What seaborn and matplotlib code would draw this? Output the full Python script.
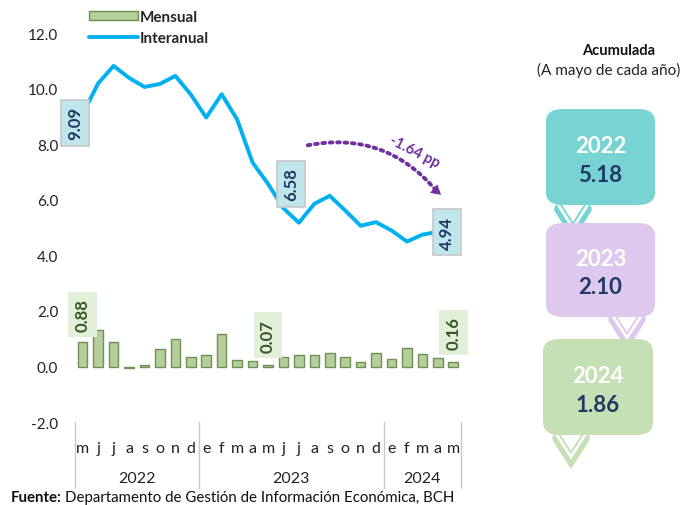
import numpy as np
import pandas as pd
import matplotlib
matplotlib.use("Agg")
import matplotlib.pyplot as plt
import seaborn as sns
from matplotlib.patches import FancyBboxPatch, FancyArrowPatch, Patch
from matplotlib.lines import Line2D

# datos
months = ["m", "j", "j", "a", "s", "o", "n", "d",
          "e", "f", "m", "a", "m", "j", "j", "a", "s", "o", "n", "d",
          "e", "f", "m", "a", "m"]
year_labels = ["2022", "2023", "2024"]
year_spans = [(0, 7), (8, 19), (20, 24)]
mensual = [0.88, 1.32, 0.90, -0.05, 0.05, 0.64, 0.98, 0.35,
           0.42, 1.18, 0.24, 0.19, 0.07, 0.35, 0.43, 0.43, 0.50, 0.36, 0.16, 0.49,
           0.26, 0.68, 0.46, 0.30, 0.16]
interanual = [9.09, 10.20, 10.83, 10.40, 10.07, 10.18, 10.47, 9.80,
              8.97, 9.81, 8.90, 7.35, 6.58, 5.70, 5.18, 5.86, 6.15, 5.62, 5.07, 5.20,
              4.90, 4.50, 4.75, 4.85, 4.94]
acum_years = ["2022", "2023", "2024"]
acum_values = [5.18, 2.10, 1.86]

line_labels = {0: "9.09", 12: "6.58", 24: "4.94"}
bar_labels = {0: "0.88", 12: "0.07", 24: "0.16"}

df = pd.DataFrame({"idx": np.arange(len(months)), "mes": months,
                   "mensual": mensual, "interanual": interanual})

sns.set_style("white")
plt.rcParams["font.family"] = ["Lato", "DejaVu Sans"]

CYAN = "#00b0f0"
NAVY = "#1f3864"
DKGREEN = "#375623"
PURPLE = "#7030a0"

fig = plt.figure(figsize=(6.86, 5.06), dpi=100)
ax = fig.add_axes([0.1093, 0.164, 0.5627, 0.768])

sns.barplot(data=df, x="idx", y="mensual", color="#b4cf9c", width=0.62,
            edgecolor="#6f8f55", linewidth=1.0, saturation=1, ax=ax, zorder=2)
sns.lineplot(data=df, x="idx", y="interanual", color=CYAN, linewidth=2.8,
             ax=ax, zorder=3, solid_joinstyle="round", solid_capstyle="round")

ax.set_xlim(-0.5, len(months) - 0.5)
ax.set_ylim(-2, 12)
ax.set_yticks(np.arange(-2, 13, 2))
ax.set_yticklabels([f"{v:.1f}" for v in np.arange(-2, 13, 2)], fontsize=11, color="#222222")
ax.set_xticks(df["idx"])
ax.set_xticklabels(months, fontsize=11.5, color="#222222")
ax.tick_params(axis="x", length=0, pad=14)
ax.tick_params(axis="y", length=0, pad=12)
ax.set_xlabel("")
ax.set_ylabel("")
for s in ax.spines.values():
    s.set_visible(False)

# años y separadores
trans = ax.get_xaxis_transform()
for lab, (a, b) in zip(year_labels, year_spans):
    ax.text((a + b) / 2, -0.145, lab, transform=trans, ha="center", va="center",
            fontsize=11.5, color="#222222")
for xsep in [-0.5, 7.5, 19.5, 24.5]:
    ax.plot([xsep, xsep], [0, -0.17], transform=trans, color="#c8c8c8",
            lw=1, clip_on=False)

# etiquetas de la linea
line_pos = {0: (-0.5, 8.78), 12: (13.5, 6.58), 24: (23.6, 4.84)}
for i, txt in line_labels.items():
    xx, yy = line_pos[i]
    ax.text(xx, yy, txt, rotation=90, ha="center", va="center", fontsize=12,
            fontweight="bold", color=NAVY, zorder=5, clip_on=False,
            bbox=dict(boxstyle="square,pad=0.38", fc="#bfe6ea", ec="#c8c8c8", lw=1.2))

# etiquetas de barras
bar_pos = {0: (0, 1.88), 12: (12, 1.13), 24: (24, 1.23)}
for i, txt in bar_labels.items():
    xx, yy = bar_pos[i]
    ax.text(xx, yy, txt, rotation=90, ha="center", va="center", fontsize=12,
            fontweight="bold", color=DKGREEN, zorder=5, clip_on=False,
            bbox=dict(boxstyle="square,pad=0.38", fc="#e2efd9", ec="none"))

# flecha de variacion: arco punteado + punta solida
arc = FancyArrowPatch((14.4, 7.95), (22.95, 6.3), connectionstyle="arc3,rad=-0.3",
                      arrowstyle="-", color=PURPLE, lw=2.8,
                      linestyle=(0, (0.7, 1.2)), zorder=4)
ax.add_patch(arc)
head = FancyArrowPatch((22.75, 6.4), (23.35, 6.12),
                       arrowstyle="-|>,head_length=7,head_width=4", color=PURPLE,
                       lw=0, zorder=4)
ax.add_patch(head)
ax.text(21.5, 7.75, "-1.64 pp", rotation=-27, ha="center", va="center",
        fontsize=10.5, fontweight="bold", color=PURPLE, zorder=5)

# leyenda
handles = [Patch(fc="#b4cf9c", ec="#6f8f55", lw=1),
           Line2D([0], [0], color=CYAN, lw=2.8)]
leg = ax.legend(handles, ["Mensual", "Interanual"], loc="upper left",
                bbox_to_anchor=(0.0, 1.095), frameon=False, fontsize=11,
                handlelength=3.2, handleheight=0.5, handletextpad=0.15,
                labelspacing=0.45)
for t in leg.get_texts():
    t.set_fontweight("bold")

# panel acumulada
fig.text(0.902, 0.900, "Acumulada", ha="center", va="center", fontsize=10.5,
         fontweight="bold", color="#111111")
fig.text(0.888, 0.861, "(A mayo de cada año)", ha="center", va="center",
         fontsize=11, color="#222222")

W, H = 686, 506
boxes = [(546, 110, 109, 96, "#78d3d3"),
         (546, 224, 109, 94, "#dfc8ee"),
         (543, 340, 110, 96, "#c5e0b4")]
chevrons = [(573, 210), (627, 320), (571, 439)]
for (bx, by, bw, bh, col), (cx, cy), yr, val in zip(boxes, chevrons, acum_years, acum_values):
    vx = [cx - 14, cx, cx + 14]
    vy = [cy, cy + 22, cy]
    fig.add_artist(Line2D([v / W for v in vx], [1 - v / H for v in vy],
                          color=col, lw=7, solid_joinstyle="miter", zorder=1))
    fig.add_artist(Line2D([v / W for v in vx], [1 - (v - 3) / H for v in vy],
                          color="white", lw=2, solid_joinstyle="miter", zorder=1.5))
    fig.add_artist(FancyBboxPatch((bx / W, 1 - (by + bh) / H), bw / W, bh / H,
                                  boxstyle="round,pad=0,rounding_size=0.025",
                                  transform=fig.transFigure, fc=col, ec="none",
                                  zorder=2))
    fig.text((bx + bw / 2) / W, 1 - (by + bh * 0.38) / H, yr, ha="center",
             va="center", fontsize=16, fontweight="bold", color="white", zorder=3)
    fig.text((bx + bw / 2) / W, 1 - (by + bh * 0.68) / H, f"{val:.2f}",
             ha="center", va="center", fontsize=16, fontweight="bold",
             color=NAVY, zorder=3)

# fuente
t1 = fig.text(0.015, 0.002, "Fuente:", ha="left", va="bottom", fontsize=10.8,
              fontweight="bold", color="#111111")
fig.canvas.draw()
bb = t1.get_window_extent().transformed(fig.transFigure.inverted())
fig.text(bb.x1 + 0.006, 0.002, "Departamento de Gestión de Información Económica, BCH",
         ha="left", va="bottom", fontsize=10.8, color="#111111")

fig.savefig("out.png", dpi=100)
